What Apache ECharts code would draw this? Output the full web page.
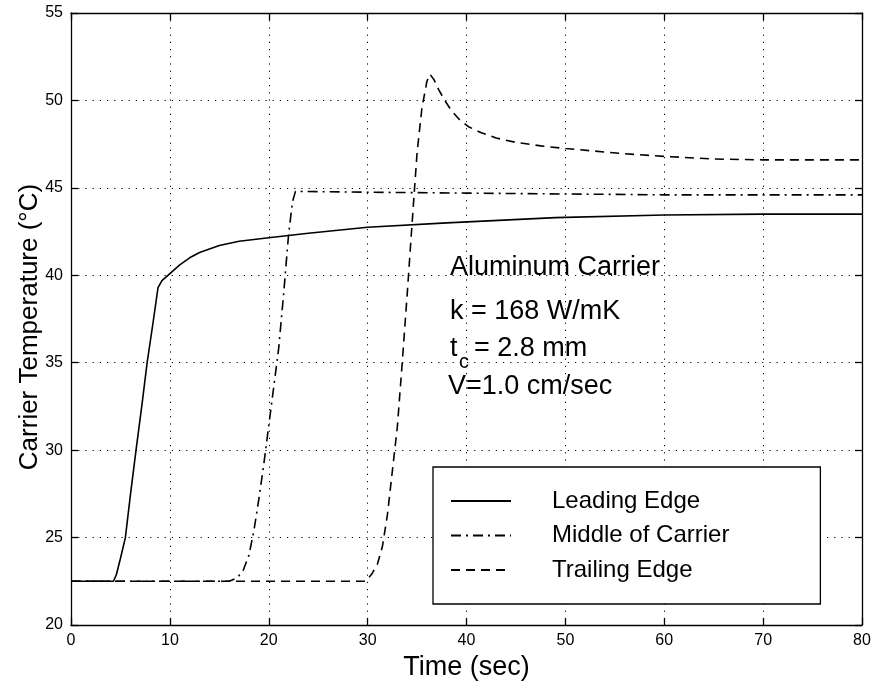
<!DOCTYPE html>
<html>
<head>
<meta charset="utf-8">
<script src="https://cdn.jsdelivr.net/npm/echarts@6/dist/echarts.min.js"></script>
<style>
html,body{margin:0;padding:0;background:#fff;}
#c{width:875px;height:686px;}
</style>
</head>
<body>
<div id="c"></div>
<script>
// ---- data ----
var xTicks = [0, 10, 20, 30, 40, 50, 60, 70, 80];
var yTicks = [20, 25, 30, 35, 40, 45, 50, 55];
var seriesNames = ["Leading Edge", "Middle of Carrier", "Trailing Edge"];

var leadTime = [0, 4.3, 4.6, 5.0, 5.5, 6.0, 6.6, 7.2, 7.7, 8.3, 8.8, 9.2, 9.6, 10.0, 11, 12, 13, 14, 15, 17, 20, 24, 30, 38, 49, 60, 70, 80];
var leadTemp = [22.5, 22.5, 22.9, 23.8, 25.0, 27.4, 30.1, 32.7, 35.0, 37.3, 39.3, 39.7, 39.9, 40.1, 40.6, 41.0, 41.3, 41.5, 41.7, 41.95, 42.15, 42.4, 42.75, 43.0, 43.3, 43.45, 43.5, 43.5];

var midTime = [0, 16.0, 16.8, 17.4, 18.0, 18.5, 19.0, 19.5, 20.0, 20.5, 21.0, 21.5, 22.0, 22.4, 22.7, 30, 40, 50, 60, 70, 80];
var midTemp = [22.5, 22.5, 22.7, 23.1, 24.0, 25.4, 27.2, 29.2, 31.4, 33.6, 35.8, 38.9, 42.3, 44.2, 44.8, 44.75, 44.7, 44.65, 44.6, 44.6, 44.6];

var trailTime = [0, 29.8, 30.4, 31.0, 31.5, 32.0, 32.5, 33.0, 33.5, 34.0, 34.5, 35.0, 35.5, 36.0, 36.3, 36.7, 37.2, 37.8, 38.5, 39.3, 40.2, 41.5, 43, 45, 47.5, 50, 53, 56, 60, 65, 70, 75, 80];
var trailTemp = [22.5, 22.5, 22.9, 23.5, 24.5, 26.3, 28.8, 31.3, 35.0, 38.9, 43.0, 47.0, 49.6, 51.1, 51.5, 51.2, 50.6, 50.0, 49.4, 48.9, 48.5, 48.15, 47.85, 47.6, 47.4, 47.25, 47.1, 46.95, 46.8, 46.65, 46.6, 46.6, 46.6];

var annotLines = ["Aluminum Carrier", "k = 168 W/mK", "t", "c", "= 2.8 mm", "V=1.0 cm/sec"];

function pairs(xs, ys) { return xs.map(function (x, i) { return [x, ys[i]]; }); }

var FONT = '"Liberation Sans", Arial, Helvetica, sans-serif';
var chart = echarts.init(document.getElementById('c'), null, {renderer: 'canvas'});

var gridLine = {show: true, lineStyle: {color: '#000', width: 1, type: [1.2, 6]}};
function mkX(pos, labels) {
  return {
    type: 'value', position: pos, min: 0, max: 80, interval: 10,
    axisLine: {show: true, onZero: false, lineStyle: {color: '#000', width: 1.3}},
    axisTick: {show: true, inside: true, length: 7, lineStyle: {color: '#000', width: 1.3}},
    axisLabel: {show: labels, color: '#000', fontFamily: FONT, fontSize: 16, margin: 8},
    splitLine: labels ? gridLine : {show: false},
    name: labels ? 'Time (sec)' : '', nameLocation: 'middle', nameGap: 29, nameMoveOverlap: false,
    nameTextStyle: {color: '#000', fontFamily: FONT, fontSize: 27}
  };
}
function mkY(pos, labels) {
  return {
    type: 'value', position: pos, min: 20, max: 55, interval: 5,
    axisLine: {show: true, onZero: false, lineStyle: {color: '#000', width: 1.3}},
    axisTick: {show: true, inside: true, length: 7, lineStyle: {color: '#000', width: 1.3}},
    axisLabel: {show: labels, color: '#000', fontFamily: FONT, fontSize: 16, margin: 8},
    splitLine: labels ? gridLine : {show: false},
    name: labels ? 'Carrier Temperature (°C)' : '', nameLocation: 'middle', nameGap: 28, nameRotate: 90,
    nameMoveOverlap: false,
    nameTextStyle: {color: '#000', fontFamily: FONT, fontSize: 26, padding: [0, 16, 0, 0]}
  };
}

var lineBase = {type: 'line', symbol: 'none', showSymbol: false, smooth: false, animation: false, xAxisIndex: 0, yAxisIndex: 0};

var annStyle = {fill: '#000', font: '27px ' + FONT, verticalAlign: 'middle'};

chart.setOption({
  animation: false,
  backgroundColor: '#fff',
  grid: {left: 71, right: 13, top: 13, bottom: 59, containLabel: false},
  xAxis: [mkX('bottom', true), mkX('top', false)],
  yAxis: [mkY('left', true), mkY('right', false)],
  legend: {
    show: true, orient: 'vertical', left: 433, top: 467,
    data: seriesNames,
    backgroundColor: '#fff', borderColor: '#000', borderWidth: 1.3,
    padding: [22, 91, 22, 17],
    itemWidth: 60, itemHeight: 14, itemGap: 10.5,
    selectedMode: false,
    itemStyle: {opacity: 0},
    textStyle: {color: '#000', fontFamily: FONT, fontSize: 24, lineHeight: 24, padding: [0, 0, 0, 36]}
  },
  series: [
    Object.assign({}, lineBase, {name: seriesNames[0], data: pairs(leadTime, leadTemp),
      lineStyle: {color: '#000', width: 1.6, type: 'solid'}, itemStyle: {color: '#000'}}),
    Object.assign({}, lineBase, {name: seriesNames[1], data: pairs(midTime, midTemp),
      lineStyle: {color: '#000', width: 1.6, type: [10, 5, 2, 5]}, itemStyle: {color: '#000'}}),
    Object.assign({}, lineBase, {name: seriesNames[2], data: pairs(trailTime, trailTemp),
      lineStyle: {color: '#000', width: 1.6, type: [9, 6]}, itemStyle: {color: '#000'}})
  ],
  graphic: [
    {type: 'text', x: 450, y: 268, style: Object.assign({text: annotLines[0]}, annStyle)},
    {type: 'text', x: 450, y: 312, style: Object.assign({text: annotLines[1]}, annStyle)},
    {type: 'text', x: 450, y: 349, style: Object.assign({text: annotLines[2]}, annStyle)},
    {type: 'text', x: 459, y: 362, style: {text: annotLines[3], fill: '#000', font: '20px ' + FONT, verticalAlign: 'middle'}},
    {type: 'text', x: 474, y: 349, style: Object.assign({text: annotLines[4]}, annStyle)},
    {type: 'text', x: 448, y: 387, style: Object.assign({text: annotLines[5]}, annStyle)}
  ]
});
</script>
</body>
</html>
